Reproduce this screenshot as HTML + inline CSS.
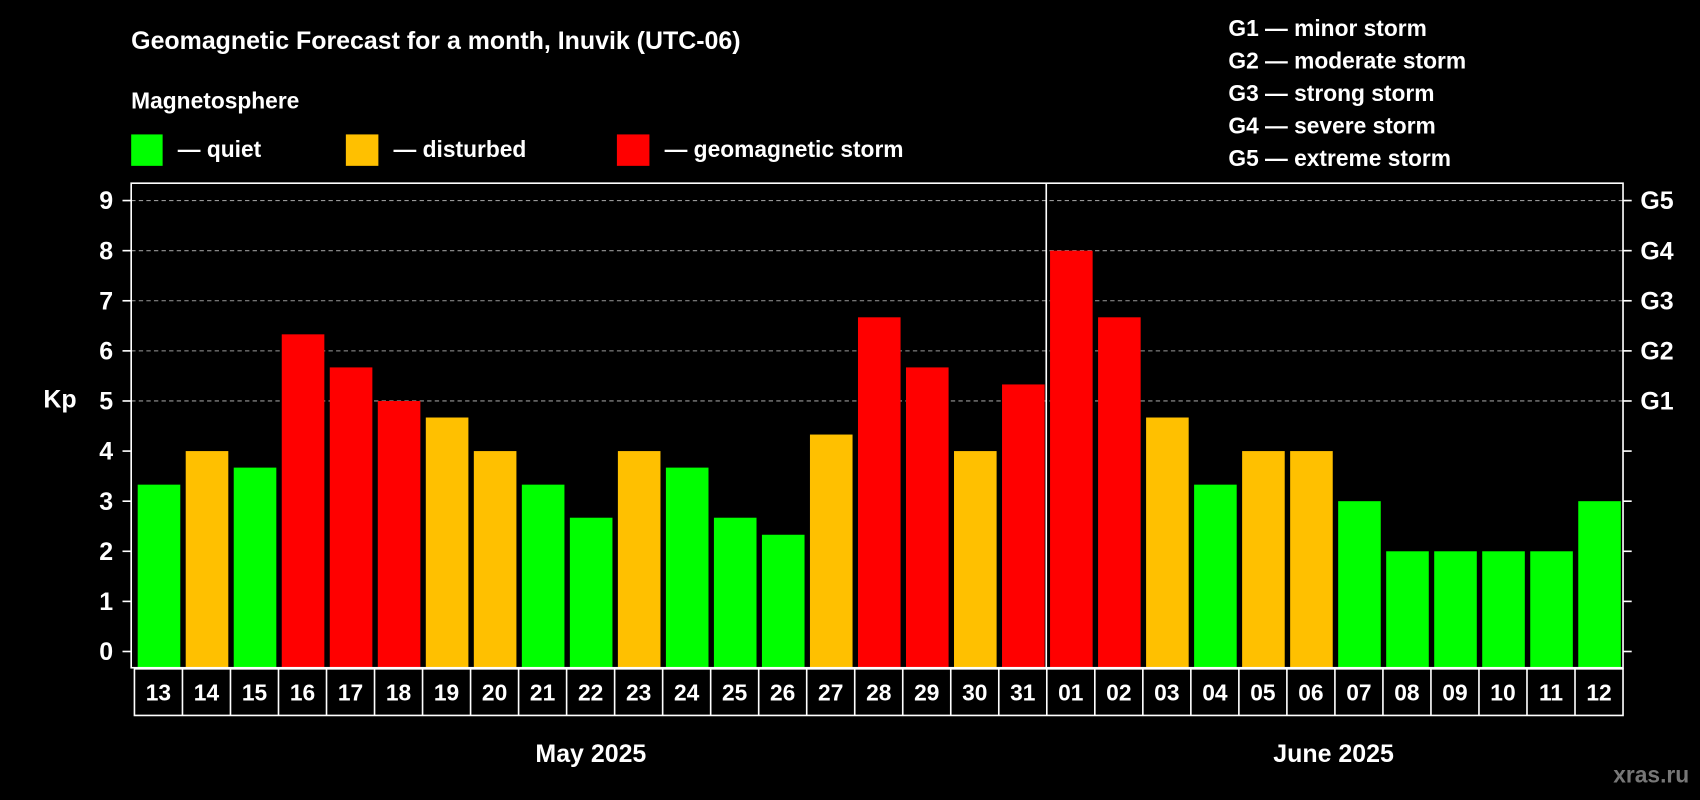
<!DOCTYPE html>
<html><head><meta charset="utf-8"><style>
html,body{margin:0;padding:0;background:#000;}
svg{display:block;font-family:"Liberation Sans",Arial,sans-serif;font-weight:bold;}
</style></head><body>
<svg id="chart" width="1700" height="800" viewBox="0 0 1568 738" preserveAspectRatio="none" xmlns="http://www.w3.org/2000/svg">
<rect width="1568" height="738" fill="#000"/>
<text x="121" y="45" fill="#fff" font-size="23">Geomagnetic Forecast for a month, Inuvik (UTC-06)</text>
<text x="121" y="100" fill="#fff" font-size="21">Magnetosphere</text>
<g><rect x="121" y="124" width="29" height="29" fill="#00ff00"/><text x="164" y="145" fill="#fff" font-size="21">— quiet</text></g>
<g><rect x="319" y="124" width="30" height="29" fill="#ffc000"/><text x="363" y="145" fill="#fff" font-size="21">— disturbed</text></g>
<g><rect x="569" y="124" width="30" height="29" fill="#ff0000"/><text x="613" y="145" fill="#fff" font-size="21">— geomagnetic storm</text></g>
<g fill="#fff" font-size="21">
<text x="1133" y="33">G1 — minor storm</text>
<text x="1133" y="63">G2 — moderate storm</text>
<text x="1133" y="93">G3 — strong storm</text>
<text x="1133" y="123">G4 — severe storm</text>
<text x="1133" y="153">G5 — extreme storm</text>
</g>
<text x="40" y="376" fill="#fff" font-size="23">Kp</text>
<g id="grid"></g>
<g id="bars"></g>
<g id="axes"></g>
<g id="days"></g>
<text x="545" y="703" fill="#fff" font-size="23" text-anchor="middle">May 2025</text>
<text x="1230" y="703" fill="#fff" font-size="23" text-anchor="middle">June 2025</text>
<text x="1558" y="722" fill="#777" font-size="21" text-anchor="end">xras.ru</text>
</svg>
<script>
const days = ["13","14","15","16","17","18","19","20","21","22","23","24","25","26","27","28","29","30","31","01","02","03","04","05","06","07","08","09","10","11","12"];
const kpValues = [3.33,4,3.67,6.33,5.67,5,4.67,4,3.33,2.67,4,3.67,2.67,2.33,4.33,6.67,5.67,4,5.33,8,6.67,4.67,3.33,4,4,3,2,2,2,2,3];
const yTicks = [0,1,2,3,4,5,6,7,8,9];
const gLabels = ["G1","G2","G3","G4","G5"];
const gLevels = [5,6,7,8,9];
const monthSplitIndex = 19;

const NS = "http://www.w3.org/2000/svg";
const L = 124, R = 1497, T = 169, B = 616;
const slot = (R - L) / days.length;
const y = v => 601 - v * 46.22;
const x = i => L + i * slot;
function mk(tag, attrs, parent){const e=document.createElementNS(NS,tag);for(const k in attrs)e.setAttribute(k,attrs[k]);parent.appendChild(e);return e;}
const grid=document.getElementById('grid'), bars=document.getElementById('bars'), axes=document.getElementById('axes'), dg=document.getElementById('days');

gLevels.forEach(v=>{
  const l=mk('line',{x1:121,x2:R,y1:y(v),y2:y(v),stroke:'#999','stroke-dasharray':'4,3','stroke-width':1},grid);
  
  
});
kpValues.forEach((v,i)=>{
  const c = v>=5 ? '#ff0000' : (v>=4 ? '#ffc000' : '#00ff00');
  const r=mk('rect',{x:x(i)+3,y:y(v),width:slot-5,height:y(0)+15-y(v),fill:c},bars);
  
  
});
const frame=mk('rect',{x:121,y:T,width:R-121,height:B-T,fill:'none',stroke:'#fff','stroke-width':1.5},axes);


const div=mk('line',{x1:x(monthSplitIndex)-0.5,x2:x(monthSplitIndex)-0.5,y1:T,y2:B,stroke:'#fff','stroke-width':1.5},axes);


yTicks.forEach(v=>{
  mk('line',{x1:113,x2:121,y1:y(v),y2:y(v),stroke:'#fff','stroke-width':1.5},axes);
  mk('line',{x1:R,x2:R+8,y1:y(v),y2:y(v),stroke:'#fff','stroke-width':1.5},axes);
  const t=mk('text',{x:98,y:y(v)+8,fill:'#fff','font-size':23,'text-anchor':'middle'},axes);
  t.textContent=v;
  
  
});
gLabels.forEach((g,i)=>{
  const t=mk('text',{x:1513,y:y(gLevels[i])+8,fill:'#fff','font-size':23},axes);
  t.textContent=g;
  
  
});
const box=mk('rect',{x:L,y:B+1,width:R-L,height:43,fill:'none',stroke:'#fff','stroke-width':1.5},dg);


days.forEach((d,i)=>{
  if(i>0) mk('line',{x1:x(i),x2:x(i),y1:B+1,y2:B+44,stroke:'#fff','stroke-width':1.5},dg);
  const t=mk('text',{x:x(i)+slot/2,y:B+30,fill:'#fff','font-size':21,'text-anchor':'middle'},dg);
  t.textContent=d;
  
  
});
</script>
</body></html>
